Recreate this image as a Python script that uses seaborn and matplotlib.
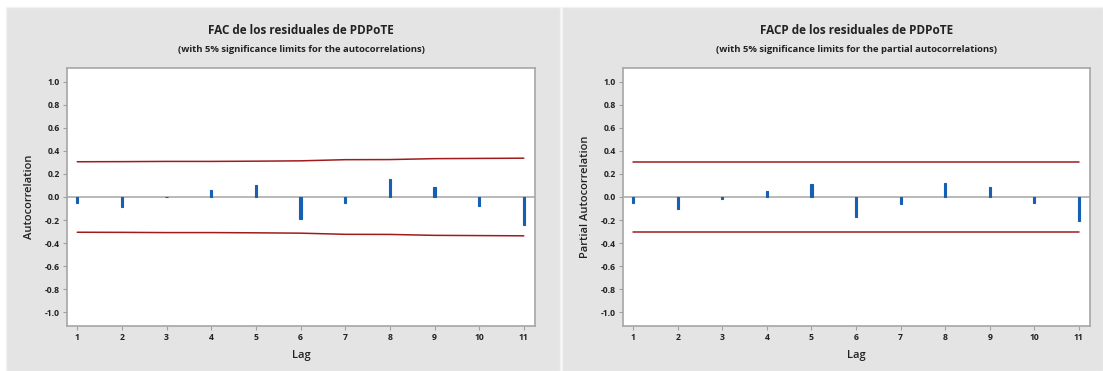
import matplotlib
matplotlib.use('Agg')
import matplotlib.pyplot as plt
from matplotlib.patches import Rectangle
import seaborn as sns
import pandas as pd

sns.set_theme(style='white')
plt.rcParams['font.family'] = ['Open Sans', 'DejaVu Sans']

# data
lags = [1, 2, 3, 4, 5, 6, 7, 8, 9, 10, 11]
acf = [-0.05, -0.09, 0.0, 0.06, 0.105, -0.19, -0.055, 0.16, 0.09, -0.08, -0.24]
acf_limit = [0.306, 0.307, 0.309, 0.309, 0.311, 0.314, 0.324, 0.325, 0.333, 0.335, 0.337]
pacf = [-0.05, -0.10, -0.015, 0.052, 0.117, -0.175, -0.058, 0.122, 0.09, -0.05, -0.21]
pacf_limit = [0.306, 0.306, 0.306, 0.306, 0.306, 0.306, 0.306, 0.306, 0.306, 0.306, 0.306]
yticks = [-1.0, -0.8, -0.6, -0.4, -0.2, 0.0, 0.2, 0.4, 0.6, 0.8, 1.0]

titles = ['FAC de los residuales de PDPoTE', 'FACP de los residuales de PDPoTE']
subtitles = ['(with 5% significance limits for the autocorrelations)',
             '(with 5% significance limits for the partial autocorrelations)']
ylabels = ['Autocorrelation', 'Partial Autocorrelation']

W, H = 1103, 371
fig = plt.figure(figsize=(W / 100, H / 100), dpi=100)
fig.patch.set_facecolor('white')

# gray panel backgrounds
panels = [(6, 560), (562, 1103)]
for x0, x1 in panels:
    fig.patches.append(Rectangle((x0 / W, 0), (x1 - x0) / W, (H - 7) / H,
                                 transform=fig.transFigure, facecolor='#e4e4e4',
                                 edgecolor='#f2f2f2', lw=1, zorder=-10))

axes_x = [(67, 535), (623, 1090)]
top, bottom = 68, 326
series = [(acf, acf_limit), (pacf, pacf_limit)]

for i, (ax_x, (vals, lim)) in enumerate(zip(axes_x, series)):
    ax = fig.add_axes([ax_x[0] / W, 1 - bottom / H, (ax_x[1] - ax_x[0]) / W, (bottom - top) / H])
    ax.set_zorder(1)
    ax.set_facecolor('white')
    df = pd.DataFrame({'Lag': lags, 'r': vals, 'up': lim, 'lo': [-v for v in lim]})

    ax.axhline(0, color='#b3b3b3', lw=1.3, zorder=1)
    sns.barplot(data=df, x='Lag', y='r', native_scale=True, width=0.05,
                color='#1660b4', saturation=1, edgecolor='#1660b4', linewidth=0.8,
                ax=ax, zorder=3)
    sns.lineplot(data=df, x='Lag', y='up', color='#a01c1c', lw=1.1, ax=ax, zorder=2)
    sns.lineplot(data=df, x='Lag', y='lo', color='#a01c1c', lw=1.1, ax=ax, zorder=2)

    ax.set_xlim(0.77, 11.25)
    ax.set_ylim(-1.12, 1.12)
    ax.set_xticks(lags)
    ax.set_xticklabels([str(l) for l in lags])
    ax.set_yticks(yticks)
    ax.set_yticklabels(['%.1f' % t for t in yticks])
    ax.tick_params(axis='both', which='both', length=3, width=0.8, color='#a0a0a0',
                   labelsize=6.2, labelcolor='#222222', pad=2, direction='out')
    for lab in ax.get_xticklabels() + ax.get_yticklabels():
        lab.set_fontweight('bold')
    ax.tick_params(left=True, bottom=True)
    for sp in ax.spines.values():
        sp.set_color('#a6a6a6')
        sp.set_linewidth(1.2)
    ax.set_xlabel('Lag', fontsize=8, fontweight='semibold', color='#222222', labelpad=6)
    ax.set_ylabel(ylabels[i], fontsize=8, fontweight='semibold', color='#222222', labelpad=7)

    cx = (ax_x[0] + ax_x[1]) / 2 / W
    fig.text(cx, 1 - 31 / H, titles[i], ha='center', va='center', fontsize=8.5,
             fontweight='bold', color='#222222')
    fig.text(cx, 1 - 50 / H, subtitles[i], ha='center', va='center', fontsize=6.8,
             fontweight='bold', color='#222222')

fig.savefig('out.png', dpi=100, facecolor='white')
